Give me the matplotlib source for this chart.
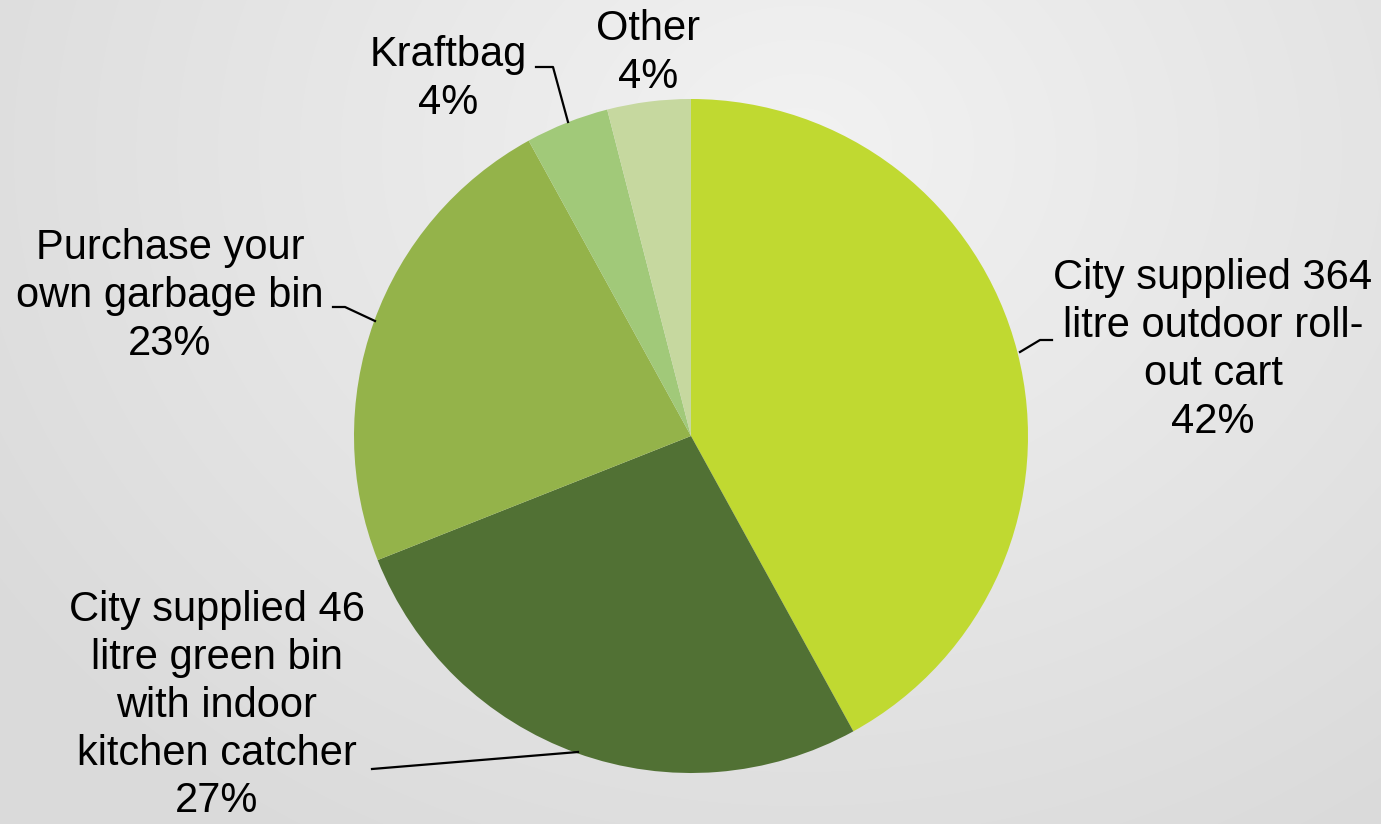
import numpy as np
import matplotlib.pyplot as plt

# ------------------------------------------
# Data
# ------------------------------------------
labels = [
    "City supplied 364\nlitre outdoor roll-\nout cart",
    "City supplied 46\nlitre green bin\nwith indoor\nkitchen catcher",
    "Purchase your\nown garbage bin",
    "Kraftbag",
    "Other",
]
shares = [42, 27, 23, 4, 4]
colors = ["#C0D931", "#517134", "#94B34A", "#A1C979", "#C6D89F"]

W, H = 1381, 824
plt.rcParams["font.family"] = ["Liberation Sans", "DejaVu Sans"]

fig = plt.figure(figsize=(W / 100, H / 100), dpi=100)
ax = fig.add_axes([0, 0, 1, 1])

# soft radial background, lighter towards the top middle
yy, xx = np.mgrid[0:H, 0:W]
d = np.sqrt(((xx - 800) / 900) ** 2 + ((yy - 150) / 750) ** 2)
shade = 0.95 - 0.095 * np.clip(d, 0, 1.1) / 1.1
ax.imshow(np.dstack([shade] * 3), extent=(0, W, 0, H), zorder=0, aspect="auto")

# ------------------------------------------
# Pie
# ------------------------------------------
cx, cy, r = 691, H - 436, 337
ax.pie(shares, colors=colors, startangle=90, counterclock=False,
       center=(cx, cy), radius=r, frame=True,
       wedgeprops=dict(linewidth=0, zorder=2))
ax.set_xlim(0, W)
ax.set_ylim(0, H)
ax.axis("off")

# label block centres and leader lines (pixel coords, top-left origin)
label_pos = [(1213, 350), (217, 706), (170, 296), (448, 79), (648, 53)]
leaders = [
    [(1020, 352), (1040, 340), (1052, 340)],
    [(578, 752), (372, 769)],
    [(375, 321), (345, 307), (333, 307)],
    [(568, 122), (553, 67), (536, 67)],
    None,
]

for lab, val, (lx, ly), ld in zip(labels, shares, label_pos, leaders):
    ax.text(lx, H - ly, f"{lab}\n{val}%", ha="center", va="center",
            fontsize=30, linespacing=1.25, color="black", zorder=3)
    if ld:
        xs = [p[0] for p in ld]
        ys = [H - p[1] for p in ld]
        ax.plot(xs, ys, color="black", lw=1.6, zorder=3)

fig.savefig("out.png", dpi=100)
